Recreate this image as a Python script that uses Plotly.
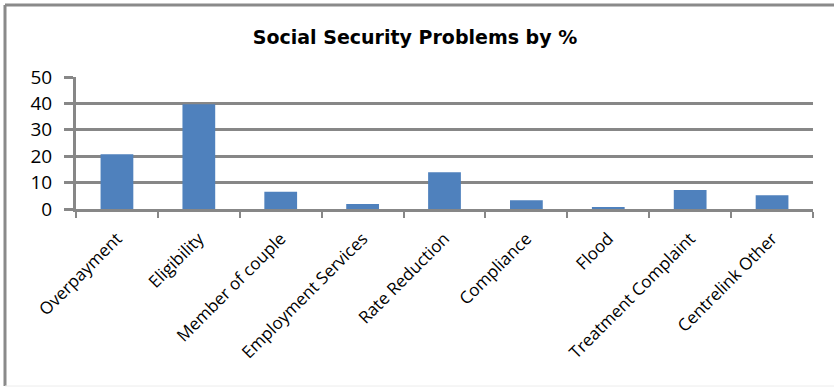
import plotly.graph_objects as go

categories = ["Overpayment", "Eligibility", "Member of couple", "Employment Services",
              "Rate Reduction", "Compliance", "Flood", "Treatment Complaint", "Centrelink Other"]
values = [20.7, 39.7, 6.5, 1.9, 13.9, 3.3, 0.7, 7.2, 5.2]
y_ticks = [0, 10, 20, 30, 40, 50]

W, H = 834, 387
L, R, T, B = 76, 21, 77, 178
pw, ph = W - L - R, H - T - B

def px_x(p):
    return (p - L) / pw

def px_y(p):
    return (H - B - p) / ph

fig = go.Figure(go.Bar(x=categories, y=values, marker=dict(color="#4F81BD", line=dict(width=0))))

gray = "#878787"
fig.update_layout(
    width=W, height=H,
    margin=dict(l=L, r=R, t=T, b=B),
    paper_bgcolor="white", plot_bgcolor="white",
    bargap=0.6,
    showlegend=False,
    title=dict(text="<b>Social Security Problems by %</b>", x=(415) / W, xanchor="center",
               y=1 - 37 / H, yanchor="middle",
               font=dict(family="DejaVu Sans", size=19, color="black")),
    xaxis=dict(tickangle=-45, tickson="boundaries", ticks="outside", ticklen=6,
               tickcolor=gray, tickwidth=2, showline=True, linecolor=gray, linewidth=3,
               showgrid=False, ticklabelstandoff=10,
               tickfont=dict(family="Open Sans", size=17, color="black")),
    yaxis=dict(range=[0, 50], tickvals=y_ticks, ticks="outside", ticklen=9, tickcolor=gray,
               tickwidth=3, showline=True, linecolor=gray, linewidth=3, showgrid=True,
               gridcolor=gray, gridwidth=3, zeroline=False, ticklabelstandoff=8,
               tickfont=dict(family="Open Sans", size=19, color="black")),
    shapes=[
        dict(type="line", xref="paper", yref="paper", x0=px_x(5), x1=px_x(840), y0=px_y(5), y1=px_y(5),
             line=dict(color="#8a8a8a", width=3)),
        dict(type="line", xref="paper", yref="paper", x0=px_x(5), x1=px_x(5), y0=px_y(5), y1=px_y(386),
             line=dict(color="#8a8a8a", width=3)),
        dict(type="line", xref="paper", yref="paper", x0=px_x(5), x1=px_x(840), y0=px_y(386), y1=px_y(386),
             line=dict(color="#ececec", width=1)),
    ],
)

fig.write_html("out.html")
